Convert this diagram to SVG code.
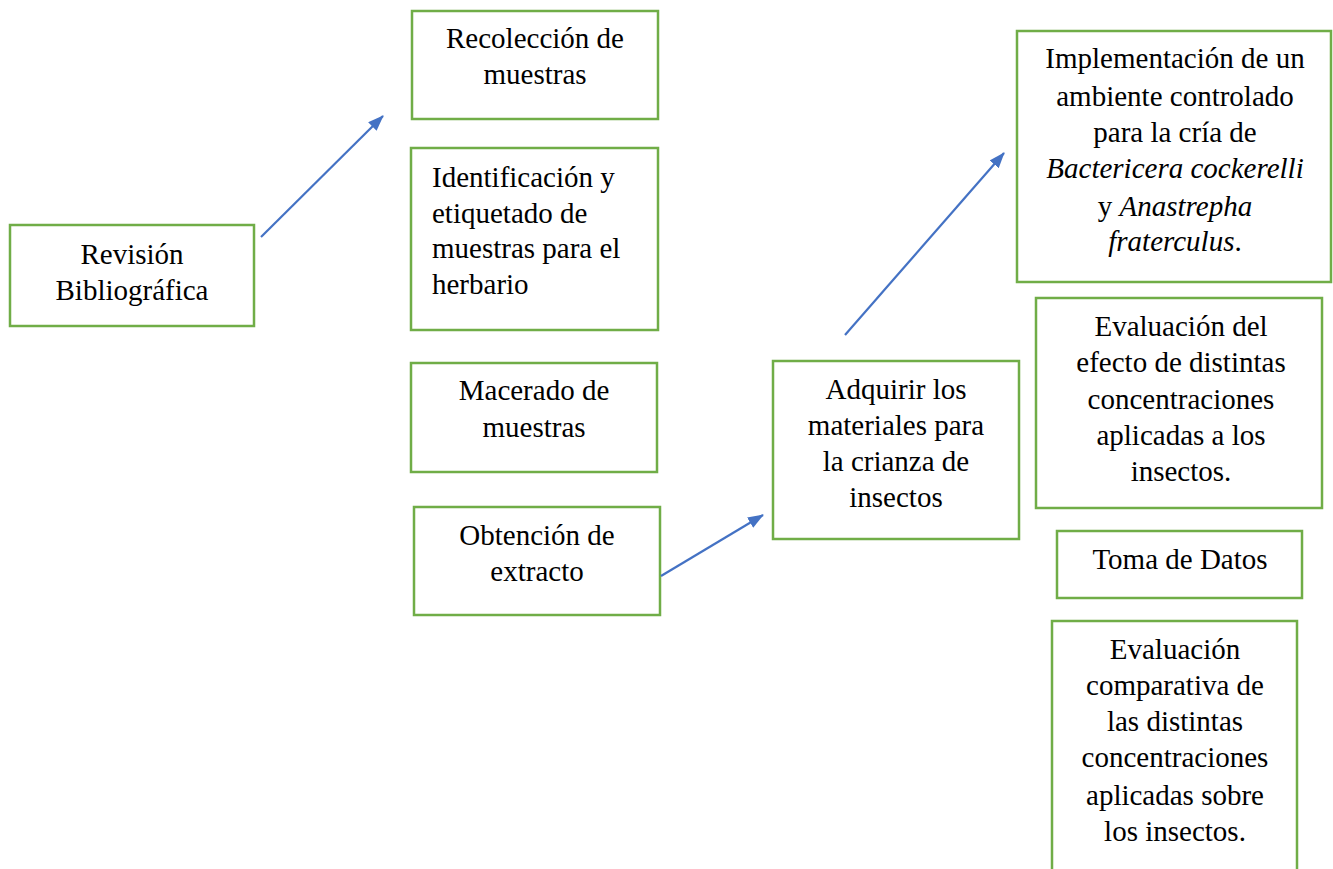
<svg xmlns="http://www.w3.org/2000/svg" width="1333" height="869" viewBox="0 0 1333 869">
<style>
.box{fill:#fff;stroke:#70AD47;stroke-width:2.5}
.t{font-family:"Liberation Serif","Times New Roman",serif;font-size:29px;fill:#000}
.c{text-anchor:middle}
.conn{stroke:#4472C4;stroke-width:2.2;fill:none}
</style>
<defs>
<marker id="ah" viewBox="0 0 16 12" refX="15" refY="6" markerWidth="16" markerHeight="12" orient="auto" markerUnits="userSpaceOnUse">
<path d="M0,0 L16,6 L0,12 z" fill="#4472C4"/>
</marker>
</defs>
<rect width="1333" height="869" fill="#fff"/>
<g id="n-revision">
<rect class="box" x="10" y="225" width="244" height="101"/>
<text class="t c" x="132" y="264">Revisión</text>
<text class="t c" x="132" y="300">Bibliográfica</text>
</g>
<g id="n-recoleccion">
<rect class="box" x="412" y="11" width="246" height="108"/>
<text class="t c" x="535" y="48">Recolección de</text>
<text class="t c" x="535" y="84">muestras</text>
</g>
<g id="n-identificacion">
<rect class="box" x="411" y="148" width="247" height="182"/>
<text class="t" x="432" y="187">Identificación y</text>
<text class="t" x="432" y="223">etiquetado de</text>
<text class="t" x="432" y="258">muestras para el</text>
<text class="t" x="432" y="294">herbario</text>
</g>
<g id="n-macerado">
<rect class="box" x="411" y="363" width="246" height="109"/>
<text class="t c" x="534" y="400">Macerado de</text>
<text class="t c" x="534" y="437">muestras</text>
</g>
<g id="n-obtencion">
<rect class="box" x="414" y="507" width="246" height="108"/>
<text class="t c" x="537" y="545">Obtención de</text>
<text class="t c" x="537" y="581">extracto</text>
</g>
<g id="n-adquirir">
<rect class="box" x="773" y="361" width="246" height="178"/>
<text class="t c" x="896" y="399">Adquirir los</text>
<text class="t c" x="896" y="435">materiales para</text>
<text class="t c" x="896" y="471">la crianza de</text>
<text class="t c" x="896" y="507">insectos</text>
</g>
<g id="n-implementacion">
<rect class="box" x="1017" y="31" width="314" height="251"/>
<text class="t c" x="1175" y="68">Implementación de un</text>
<text class="t c" x="1175" y="106">ambiente controlado</text>
<text class="t c" x="1175" y="142">para la cría de</text>
<text class="t c" x="1175" y="178" font-style="italic">Bactericera cockerelli</text>
<text class="t c" x="1175" y="216">y <tspan font-style="italic">Anastrepha</tspan></text>
<text class="t c" x="1175" y="251"><tspan font-style="italic">fraterculus</tspan>.</text>
</g>
<g id="n-evaluacion-efecto">
<rect class="box" x="1036" y="298" width="286" height="210"/>
<text class="t c" x="1181" y="336">Evaluación del</text>
<text class="t c" x="1181" y="372">efecto de distintas</text>
<text class="t c" x="1181" y="409">concentraciones</text>
<text class="t c" x="1181" y="445">aplicadas a los</text>
<text class="t c" x="1181" y="481">insectos.</text>
</g>
<g id="n-toma">
<rect class="box" x="1057" y="531" width="245" height="67"/>
<text class="t c" x="1180" y="569">Toma de Datos</text>
</g>
<g id="n-evaluacion-comparativa">
<rect class="box" x="1052" y="621" width="245" height="262"/>
<text class="t c" x="1175" y="659">Evaluación</text>
<text class="t c" x="1175" y="695">comparativa de</text>
<text class="t c" x="1175" y="731">las distintas</text>
<text class="t c" x="1175" y="767">concentraciones</text>
<text class="t c" x="1175" y="805">aplicadas sobre</text>
<text class="t c" x="1175" y="841">los insectos.</text>
</g>
<g id="connectors">
<line class="conn" x1="261" y1="237" x2="383" y2="116" marker-end="url(#ah)"/>
<line class="conn" x1="661" y1="576" x2="763" y2="515" marker-end="url(#ah)"/>
<line class="conn" x1="845" y1="335" x2="1004" y2="153" marker-end="url(#ah)"/>
</g>
</svg>
